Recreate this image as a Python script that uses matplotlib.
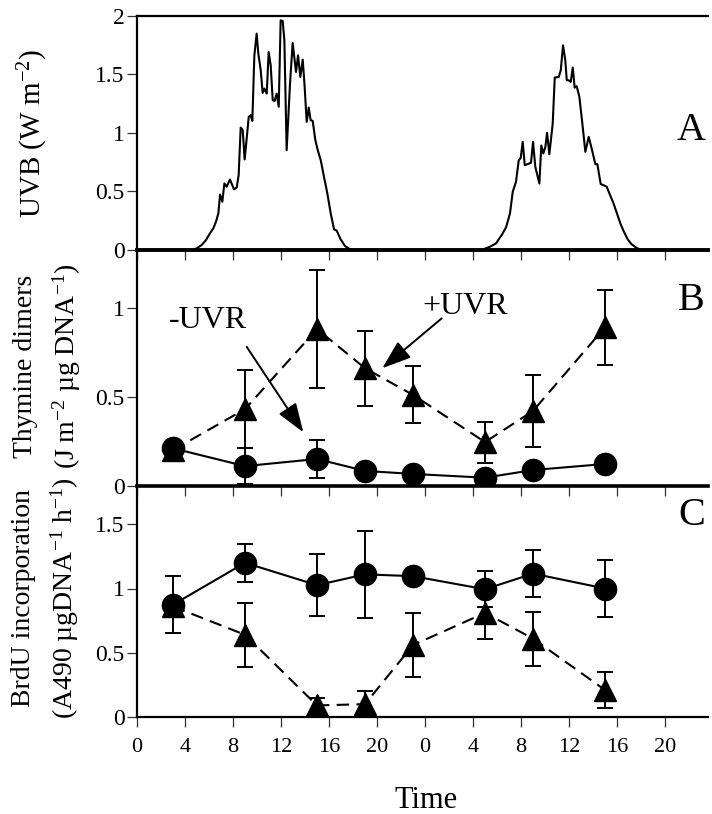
import matplotlib
matplotlib.use("Agg")
import matplotlib.pyplot as plt

plt.rcParams['font.family'] = ['Liberation Serif', 'DejaVu Serif']
plt.rcParams['mathtext.fontset'] = 'custom'
plt.rcParams['mathtext.rm'] = 'Liberation Serif'
plt.rcParams['mathtext.it'] = 'Liberation Serif:italic'
plt.rcParams['mathtext.default'] = 'regular'

# ---------------- data ----------------
uvb_time = [0, 4.69, 4.97, 5.39, 5.75, 6.08, 6.36, 6.58, 6.78, 6.92, 7.11, 7.28, 7.47,
            7.75, 8.08, 8.31, 8.47, 8.64, 8.81, 8.97, 9.14, 9.31, 9.47, 9.61, 9.78,
            9.97, 10.11, 10.31, 10.47, 10.61, 10.81, 10.97, 11.14, 11.31, 11.47, 11.64,
            11.81, 11.97, 12.14, 12.28, 12.47, 12.75, 12.97, 13.25, 13.42, 13.61, 13.81,
            13.97, 14.14, 14.31, 14.47, 14.64, 14.86, 15.06, 15.31, 15.58, 15.86, 16.14,
            16.42, 16.64, 16.97, 17.33, 17.75, 18.17,
            28.72, 29.42, 29.92, 30.39, 30.75, 31.08, 31.31, 31.58, 31.81, 31.97, 32.14,
            32.31, 32.69, 32.83, 33.0, 33.19, 33.36, 33.53, 33.69, 33.86, 34.03, 34.17,
            34.36, 34.64, 34.81, 35.14, 35.31, 35.5, 35.69, 35.81, 35.97, 36.14, 36.31,
            36.47, 36.64, 36.86, 37.08, 37.36, 37.64, 37.92, 38.19, 38.36, 38.64, 38.86,
            39.14, 39.42, 39.7, 40.0, 40.3, 40.6, 40.9, 41.2, 41.6, 42.0, 48.0]
uvb_value = [0, 0, 0.014, 0.043, 0.085, 0.142, 0.185, 0.241, 0.313, 0.474, 0.412, 0.568, 0.540,
             0.602, 0.517, 0.534, 0.639, 1.045, 1.023, 0.773, 0.952, 1.136, 1.151, 1.102, 1.662,
             1.847, 1.676, 1.534, 1.341, 1.378, 1.335, 1.690, 1.577, 1.278, 1.273, 1.335,
             1.222, 1.960, 1.955, 1.790, 0.852, 1.420, 1.767, 1.520, 1.662, 1.477, 1.625,
             1.392, 1.094, 1.216, 1.108, 1.102, 0.938, 0.852, 0.767, 0.625, 0.483, 0.313,
             0.176, 0.165, 0.091, 0.034, 0.006, 0,
             0, 0.028, 0.057, 0.128, 0.193, 0.313, 0.497, 0.582, 0.767, 0.784, 0.923,
             0.724, 0.739, 0.744, 0.923, 0.710, 0.639, 0.568, 0.892, 0.824, 0.881, 1.0,
             0.818, 1.080, 1.472, 1.477, 1.534, 1.747, 1.619, 1.449, 1.449, 1.435, 1.557,
             1.386, 1.398, 1.307, 1.108, 0.838, 0.966, 0.852, 0.733, 0.733, 0.563, 0.554,
             0.540, 0.469, 0.40, 0.31, 0.22, 0.15, 0.09, 0.05, 0.02, 0, 0]

sample_time = [3, 9, 15, 19, 23, 29, 33, 39]

dimer_minus = [0.21, 0.11, 0.15, 0.083, 0.066, 0.045, 0.088, 0.122]
dimer_minus_err = [0, 0.10, 0.105, 0, 0, 0, 0, 0]
dimer_plus = [0.20, 0.43, 0.88, 0.66, 0.51, 0.245, 0.42, 0.89]
dimer_plus_err = [0, 0.22, 0.33, 0.21, 0.16, 0.115, 0.20, 0.21]

brdu_minus = [0.874, 1.20, 1.026, 1.11, 1.096, 0.994, 1.116, 1.0]
brdu_minus_err = [0.22, 0.15, 0.24, 0.34, 0, 0.14, 0.18, 0.22]
brdu_plus = [0.86, 0.64, 0.09, 0.10, 0.56, 0.81, 0.61, 0.21]
brdu_plus_err = [0, 0.25, 0.06, 0.10, 0.25, 0.20, 0.21, 0.14]

tick_hours = [0, 4, 8, 12, 16, 20, 24, 28, 32, 36, 40, 44]
tick_labels = ['0', '4', '8', '12', '16', '20', '0', '4', '8', '12', '16', '20']

# ---------------- figure ----------------
W, H = 712, 814
fig = plt.figure(figsize=(W / 100, H / 100), dpi=100)

def px_axes(top, bottom, left=137, right=708):
    return fig.add_axes([left / W, 1 - bottom / H, (right - left) / W, (bottom - top) / H])

axA = px_axes(15.7, 250)
axB = px_axes(250, 485.7)
axC = px_axes(485.7, 717)

XMAX = 47.58
for ax in (axA, axB, axC):
    ax.set_xlim(0, XMAX)
    ax.spines['right'].set_visible(False)
    ax.spines['left'].set_linewidth(1.6)
    ax.set_xticks(tick_hours)
    ax.tick_params(axis='both', direction='out', length=7, width=0.9, color='#333333')
    ax.tick_params(axis='y', labelsize=17, pad=2)
    ax.tick_params(axis='x', labelsize=16, pad=8)
    ax.set_facecolor('none')

for ax in (axB, axC):
    ax.spines['top'].set_visible(False)
axA.spines['top'].set_linewidth(1.6)
axA.spines['bottom'].set_linewidth(2.8)
axB.spines['bottom'].set_linewidth(2.6)
axC.spines['bottom'].set_linewidth(1.6)
axA.set_xticklabels([])
axB.set_xticklabels([])
axC.set_xticklabels(tick_labels)

# Panel A
axA.plot(uvb_time, uvb_value, color='black', lw=1.5)
axA.set_ylim(0, 2.0)
axA.set_yticks([0, 0.5, 1, 1.5, 2])
axA.set_yticklabels(['0', '0.5', '1', '1.5', '2'])
axA.text(46.2, 1.02, 'A', fontsize=29, ha='center', va='center')

dash = (0, (6, 3.5))
mk = dict(markersize=16, color='black', markerfacecolor='black', markeredgecolor='black')
eb = dict(ecolor='black', elinewidth=1.4, capsize=6, capthick=1.4)
arrow = dict(arrowstyle='-|>,head_length=0.9,head_width=0.32', color='black', lw=1.4,
             mutation_scale=20, shrinkA=0, shrinkB=0)

# Panel B
axB.errorbar(sample_time, dimer_plus, yerr=dimer_plus_err, marker='^', ls=dash, lw=1.5, **mk, **eb)
axB.errorbar(sample_time, dimer_minus, yerr=dimer_minus_err, marker='o', ls='-', lw=1.5, **mk, **eb)
axB.set_ylim(0, 1.324)
axB.set_yticks([0, 0.5, 1])
axB.set_yticklabels(['0', '0.5', '1'])
axB.text(46.2, 1.04, 'B', fontsize=29, ha='center', va='center')
axB.text(5.92, 0.93, '-UVR', fontsize=23, ha='center', va='center')
axB.annotate('', xy=(13.86, 0.30), xytext=(9.14, 0.78), arrowprops=arrow)
axB.text(27.33, 1.004, '+UVR', fontsize=23, ha='center', va='center')
axB.annotate('', xy=(20.44, 0.66), xytext=(25.39, 0.94), arrowprops=arrow)

# Panel C
axC.errorbar(sample_time, brdu_plus, yerr=brdu_plus_err, marker='^', ls=dash, lw=1.5, **mk, **eb)
axC.errorbar(sample_time, brdu_minus, yerr=brdu_minus_err, marker='o', ls='-', lw=1.5, **mk, **eb)
axC.set_ylim(0, 1.8)
axC.set_yticks([0, 0.5, 1, 1.5])
axC.set_yticklabels(['0', '0.5', '1', '1.5'])
axC.text(46.2, 1.57, 'C', fontsize=29, ha='center', va='center')

# axis labels
fig.text(33 / W, 1 - 133 / H, 'UVB (W m$^{-2}$)', rotation=90, fontsize=21,
         ha='center', va='center')
fig.text(48 / W, 1 - 366 / H, 'Thymine dimers\n(J m$^{-2}$ µg DNA$^{-1}$)', rotation=90,
         fontsize=20, ha='center', va='center', multialignment='center', linespacing=1.55)
fig.text(46 / W, 1 - 598 / H, 'BrdU incorporation\n(A490 µgDNA$^{-1}$ h$^{-1}$)', rotation=90,
         fontsize=20, ha='center', va='center', multialignment='center', linespacing=1.55)
fig.text(426 / W, 1 - 801 / H, 'Time', fontsize=22, ha='center', va='center')

fig.savefig('out.png', dpi=100)
